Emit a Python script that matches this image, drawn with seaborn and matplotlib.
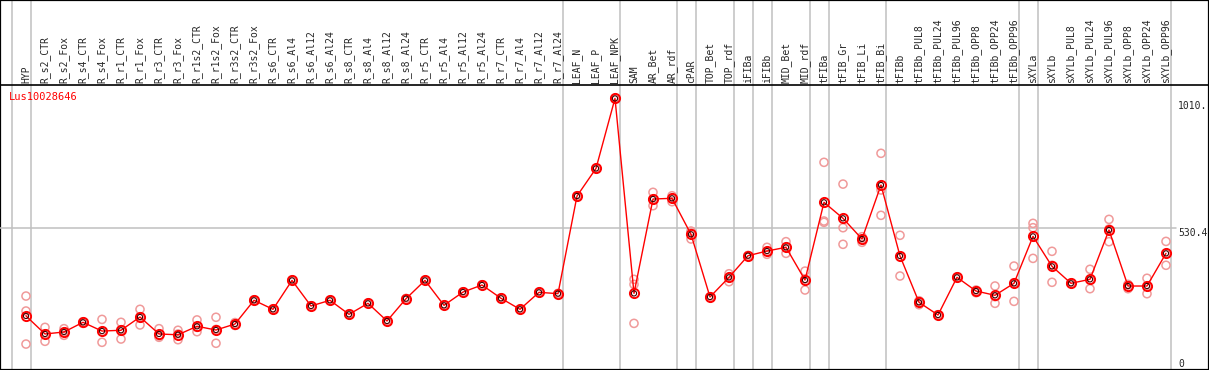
import numpy as np
import pandas as pd
import matplotlib
matplotlib.use("Agg")
import matplotlib.pyplot as plt
import seaborn as sns

# data
gene = "Lus10028646"
samples = [
    "HYP", "R_s2_CTR", "R_s2_Fox", "R_s4_CTR", "R_s4_Fox", "R_r1_CTR", "R_r1_Fox",
    "R_r3_CTR", "R_r3_Fox", "R_r1s2_CTR", "R_r1s2_Fox", "R_r3s2_CTR", "R_r3s2_Fox",
    "R_s6_CTR", "R_s6_Al4", "R_s6_Al12", "R_s6_Al24", "R_s8_CTR", "R_s8_Al4",
    "R_s8_Al12", "R_s8_Al24", "R_r5_CTR", "R_r5_Al4", "R_r5_Al12", "R_r5_Al24",
    "R_r7_CTR", "R_r7_Al4", "R_r7_Al12", "R_r7_Al24", "LEAF_N", "LEAF_P", "LEAF_NPK",
    "SAM", "AR_Bet", "AR_rdf", "cPAR", "TOP_Bet", "TOP_rdf", "iFIBa", "iFIBb",
    "MID_Bet", "MID_rdf", "tFIBa", "tFIB_Gr", "tFIB_Li", "tFIB_Bi", "tFIBb",
    "tFIBb_PUL8", "tFIBb_PUL24", "tFIBb_PUL96", "tFIBb_OPP8", "tFIBb_OPP24",
    "tFIBb_OPP96", "sXYLa", "sXYLb", "sXYLb_PUL8", "sXYLb_PUL24", "sXYLb_PUL96",
    "sXYLb_OPP8", "sXYLb_OPP24", "sXYLb_OPP96",
]
means = [
    200, 132, 139.5, 176, 143, 146, 196, 132, 129, 161, 147, 169.6, 259,
    225, 334, 237.5, 259, 206, 247.6, 181, 265, 334, 240, 290, 316.6,
    266.5, 225, 289, 284, 652, 756, 1020,
    285, 640.7, 643.4, 507.7, 271.4, 345.6, 427, 444.7,
    458.7, 335.4, 628.3, 568, 490, 693.5, 426,
    251.4, 203.5, 345.6, 294, 277.8,
    323, 500, 387, 323, 338, 524,
    312.8, 312.8, 436,
]
rep_a = [
    275, 157, 152, 178, 187, 176, 225, 152, 146, 185, 195, 175, 260.5,
    226.5, 335.5, 238.5, 260, 207, 248.6, 182, 266, 335, 241, 291, 317.6,
    267.5, 226, 290, 285, 653, 757, 1021,
    338, 666, 653, 520, 272.4, 359, 428, 458.7,
    480, 369, 779, 697, 498.6, 813, 504,
    257.4, 204.5, 346.6, 297.8, 312.8,
    388, 549, 443.6, 324, 375.8, 564,
    319, 342, 481,
]
rep_b = [
    218.6, 132, 139.5, 175.3, 141.7, 148, 197, 124.4, 132, 157, 149.3, 169.6, 259,
    225, 334.3, 237.5, 259, 206, 247.6, 181, 265, 334, 240, 290, 316.6,
    266.5, 225, 289, 284, 652, 756, 1020,
    319, 640.7, 644.5, 512.6, 271.4, 346.7, 427, 443.6,
    459.8, 339, 557.8, 532.6, 490, 674.7, 423.3,
    252.5, 203.5, 345.6, 294, 272.5,
    325, 532.6, 391, 323, 335.4, 527.7,
    316.6, 312.8, 436,
]
rep_c = [
    94, 104.4, 127, 172, 100.6, 113, 166, 119.5, 110.4, 140.6, 97, 164, 257.5,
    223.5, 333, 236.5, 258, 205, 246.6, 180, 264, 333, 239, 289, 315.6,
    265.5, 224, 288, 283, 651, 755, 1019,
    172, 615.5, 630.6, 490, 270.4, 329, 426, 432.3,
    436, 297.8, 552.9, 470, 477.5, 579.3, 350.5,
    242.3, 202.5, 344.6, 287.6, 247.6,
    255, 417, 326.8, 322, 302.7, 479.8,
    302.7, 283.8, 391,
]
# index of the last sample in each group (grey separators)
group_ends = [-1, 0, 28, 31, 34, 35, 37, 38, 39, 41, 42, 45, 52, 53, 60]
ytick_vals = [1010, 530.4, 0]
ytick_text = ["1010.", "530.4", "0"]

W, H = 1209, 370
x0 = -26 / 19
x1 = (W - 26) / 19

pos = np.arange(len(samples))
df_mean = pd.DataFrame({"pos": pos, "value": means})
df_rep = pd.DataFrame({
    "pos": np.tile(pos, 3),
    "value": rep_a + rep_b + rep_c,
})

sns.set_style("white")
plt.rcParams["font.family"] = ["DejaVu Sans Mono"]

fig = plt.figure(figsize=(W / 100, H / 100), dpi=100)

# background axes for separators and the outer frame
bg = fig.add_axes([0, 0, 1, 1])
bg.set_xlim(x0, x1)
bg.set_ylim(0, 1)
bg.set_xticks([])
bg.set_yticks([])
for s in bg.spines.values():
    s.set_color("black")
    s.set_linewidth(1.6)
for g in group_ends:
    bg.axvline(g + 0.27, color="#c0c0c0", lw=1.1, zorder=0)

ax = fig.add_axes([0, 1 / H, 1, 284 / H])
ax.patch.set_visible(False)
ax.set_xlim(x0, x1)
ax.set_ylim(0, 1070.5)
for name, s in ax.spines.items():
    s.set_visible(name == "top")
ax.spines["top"].set_color("black")
ax.spines["top"].set_linewidth(1.2)

ax.plot([x0, 60.55], [530.4, 530.4], color="#c0c0c0", lw=1.1, zorder=0)

sns.scatterplot(data=df_rep, x="pos", y="value", ax=ax, marker="o",
                s=34, facecolor="none", edgecolor="#f09a9a", linewidth=1.1,
                zorder=2, legend=False)
sns.lineplot(data=df_mean, x="pos", y="value", ax=ax, color="red", lw=1,
             marker="o", ms=6.6, mfc="none", mec="red", mew=1.4, zorder=3)
sns.scatterplot(data=df_mean, x="pos", y="value", ax=ax, marker="o",
                s=14, facecolor="none", edgecolor="#400000", linewidth=0.8,
                zorder=4, legend=False)

ax.set_xlabel("")
ax.set_ylabel("")
ax.set_yticks([])
ax.xaxis.tick_top()
ax.set_xticks(pos)
ax.set_xticklabels(samples, rotation=90, fontsize=7, va="bottom", ha="center")
ax.tick_params(axis="x", length=0, pad=1.5)

for v, t in zip(ytick_vals, ytick_text):
    ax.text(60.63, v, t, fontsize=7, ha="left",
            va="bottom" if v == 0 else "top")

fig.text(9 / W, 1 - 97 / H, gene, color="red", fontsize=7.5, va="center")

fig.savefig("out.png", dpi=100)
